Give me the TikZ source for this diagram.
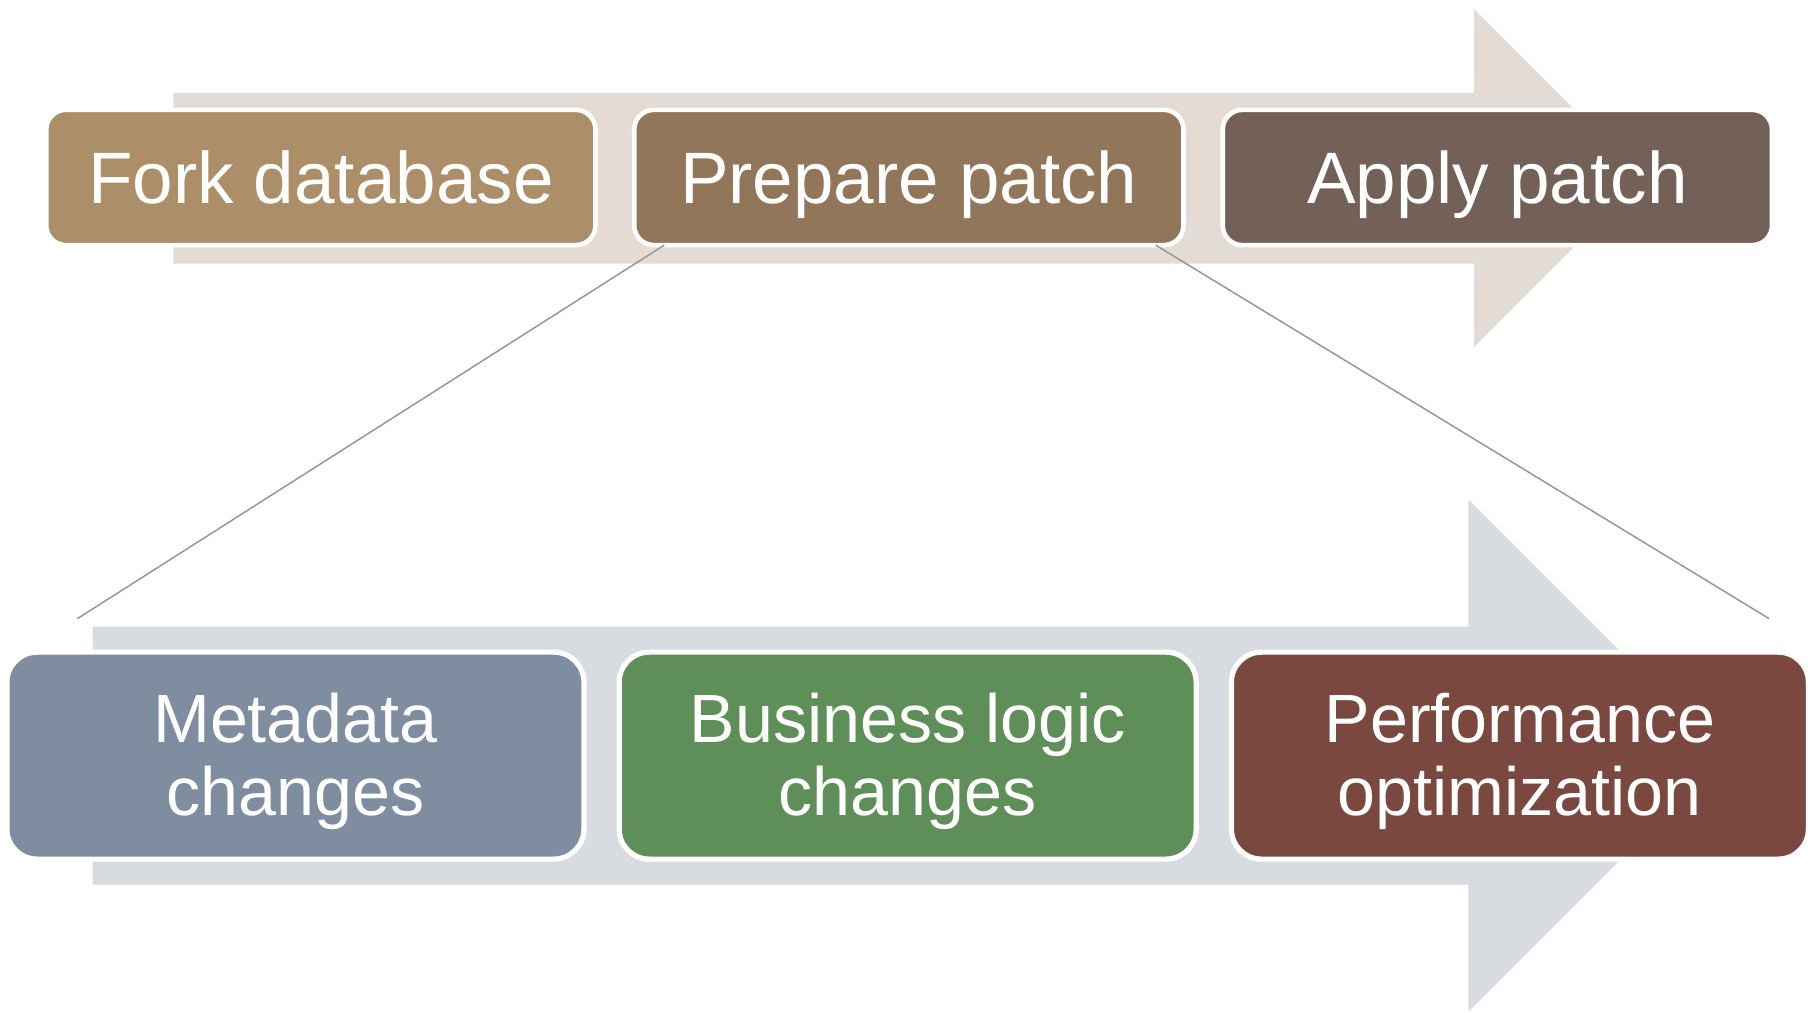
\documentclass[tikz,border=0pt]{standalone}
\usepackage{fontspec}
\setmainfont{Liberation Sans}
\usetikzlibrary{calc}
\definecolor{arrTop}{HTML}{E3DBD4}
\definecolor{arrBot}{HTML}{D8DCE0}
\definecolor{cFork}{HTML}{AC8E68}
\definecolor{cPrep}{HTML}{917659}
\definecolor{cApply}{HTML}{736157}
\definecolor{cMeta}{HTML}{7F8DA1}
\definecolor{cBiz}{HTML}{5F8F58}
\definecolor{cPerf}{HTML}{7A483F}
\definecolor{cLine}{HTML}{8E9C94}
\begin{document}
\begin{tikzpicture}[x=1pt,y=-1pt,
  topbox/.style={draw=white, line width=4pt, rounded corners=17pt,
    minimum width=475pt, minimum height=117pt, inner sep=0pt, text=white,
    font=\fontsize{63}{70}\selectfont, text height=45pt, text depth=0pt},
  botbox/.style={draw=white, line width=4.5pt, rounded corners=26pt,
    minimum width=499pt, minimum height=179pt, inner sep=0pt, text=white,
    align=center, font=\fontsize{59}{63}\selectfont},
  link/.style={draw=cLine, line width=1.3pt}]
\useasboundingbox (0,0) rectangle (1568,876);
% background arrows
\fill[arrTop] (150,80) -- (1275,80) -- (1275,8) -- (1421,154) -- (1275,300)
  -- (1275,228) -- (150,228) -- cycle;
\fill[arrBot] (80,542) -- (1270,542) -- (1270,432) -- (1491.5,653.5) -- (1270,875)
  -- (1270,765) -- (80,765) -- cycle;
% top boxes
\node[topbox, fill=cFork]  (fork)  at (277.5,153.5) {Fork database};
\node[topbox, fill=cPrep]  (prep)  at (786,153.5)   {Prepare patch};
\node[topbox, fill=cApply] (apply) at (1295,153.5)  {Apply patch};
% bottom boxes
\node[botbox, fill=cMeta] (meta) at (255.5,653.5) {\rule{0pt}{52pt}Metadata\\changes};
\node[botbox, fill=cBiz]  (biz)  at (785,653.5)   {\rule{0pt}{52pt}Business logic\\changes};
\node[botbox, fill=cPerf] (perf) at (1314.5,653.5) {\rule{0pt}{52pt}Performance\\optimization};
% zoom lines
\coordinate (endL) at (67,535);
\coordinate (endR) at (1530,535);
\draw[link] ($(prep.south west)+(28,-2)$) -- (endL);
\draw[link] ($(prep.south east)+(-26,-2)$) -- (endR);
\end{tikzpicture}
\end{document}
